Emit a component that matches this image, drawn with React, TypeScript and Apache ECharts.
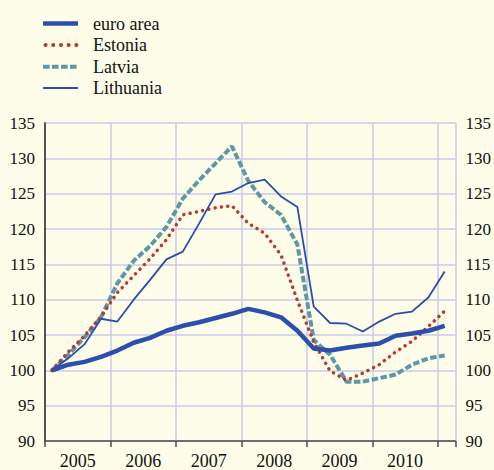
import React, { useEffect, useRef } from "react";
import * as echarts from "echarts";

const quarters: string[] = [
  "2005Q1","2005Q2","2005Q3","2005Q4",
  "2006Q1","2006Q2","2006Q3","2006Q4",
  "2007Q1","2007Q2","2007Q3","2007Q4",
  "2008Q1","2008Q2","2008Q3","2008Q4",
  "2009Q1","2009Q2","2009Q3","2009Q4",
  "2010Q1","2010Q2","2010Q3","2010Q4",
  "2011Q1",
];
const yearLabels: string[] = ["2005", "2006", "2007", "2008", "2009", "2010"];
const seriesNames: string[] = ["euro area", "Estonia", "Latvia", "Lithuania"];
const euroArea: number[] = [100, 100.8, 101.2, 101.9, 102.8, 103.9, 104.6, 105.6, 106.3, 106.8, 107.4, 108.0, 108.7, 108.2, 107.5, 105.6, 103.1, 102.8, 103.2, 103.5, 103.8, 104.9, 105.2, 105.6, 106.3];
const estonia: number[] = [100, 102.6, 104.9, 107.6, 111.0, 113.4, 115.8, 118.5, 122.0, 122.5, 123.0, 123.3, 120.8, 119.4, 116.3, 109.9, 104.0, 99.9, 98.6, 99.6, 100.8, 102.6, 104.1, 106.2, 108.4];
const latvia: number[] = [100, 102.2, 104.7, 107.5, 112.3, 115.5, 117.6, 120.3, 124.3, 126.9, 129.3, 131.7, 126.8, 123.8, 122.0, 117.8, 104.3, 102.2, 98.4, 98.4, 98.9, 99.4, 100.8, 101.7, 102.1];
const lithuania: number[] = [100, 101.7, 103.7, 107.3, 106.9, 110.0, 112.8, 115.7, 116.8, 120.8, 124.9, 125.3, 126.5, 127.0, 124.6, 123.1, 109.0, 106.7, 106.6, 105.5, 106.9, 108.0, 108.3, 110.3, 114.0];
const yTicks = { min: 90, max: 135, interval: 5 };

const X_OFFSET = 0.42;
const X_MAX = 25.08;

const toPoints = (vals: number[]) => vals.map((v, i) => [i + X_OFFSET, v]);

const FONT = "Liberation Serif";
const COLORS = {
  euro: "#2c4fae",
  estonia: "#b83a30",
  latvia: "#5f97a7",
  lithuania: "#2c4db0",
};
const STYLES = [
  { color: COLORS.euro, width: 4.5, dash: null as number[] | null, cap: "butt" },
  { color: COLORS.estonia, width: 4, dash: [0.1, 7.6], cap: "round" },
  { color: COLORS.latvia, width: 4, dash: [6.6, 2.4], cap: "butt" },
  { color: COLORS.lithuania, width: 2, dash: null as number[] | null, cap: "butt" },
];

export default function App() {
  const ref = useRef<HTMLDivElement>(null);
  useEffect(() => {
    document.body.style.margin = "0";
    document.body.style.background = "#fefde9";
    const chart = echarts.init(ref.current!, null, { renderer: "svg" });
    const axisColor = "#4a4a4a";
    const gridColor = "#c9cbe8";
    const yAxisCommon = {
      type: "value",
      min: yTicks.min,
      max: yTicks.max,
      interval: yTicks.interval,
      axisLine: { show: true, lineStyle: { color: axisColor, width: 1.5 } },
      axisTick: { show: false },
      axisLabel: { color: "#111", fontFamily: FONT, fontSize: 17, margin: 10 },
    };
    const legendRowsY = [23.5, 45, 66.7, 88];
    const legendGraphics: any[] = [];
    seriesNames.forEach((name, i) => {
      const s = STYLES[i];
      const y = legendRowsY[i];
      legendGraphics.push({
        type: "line",
        shape: { x1: i === 1 ? 45.5 : 43, y1: y, x2: 78, y2: y },
        style: {
          stroke: s.color,
          lineWidth: s.width,
          lineDash: s.dash ?? undefined,
          lineCap: s.cap,
        },
        silent: true,
      });
      legendGraphics.push({
        type: "text",
        x: 93,
        y: y,
        style: {
          text: name,
          fill: "#111",
          fontFamily: FONT,
          fontSize: 18,
          verticalAlign: "middle",
          align: "left",
        },
        silent: true,
      });
    });
    chart.setOption({
      animation: false,
      backgroundColor: "#fefde9",
      graphic: legendGraphics,
      grid: { left: 45, right: 37, top: 123, bottom: 23, containLabel: false },
      xAxis: [
        {
          type: "value",
          min: 0,
          max: X_MAX,
          interval: 4,
          position: "bottom",
          axisLine: { show: true, onZero: false, lineStyle: { color: axisColor, width: 1.5 } },
          axisTick: { show: true, inside: false, length: 6, lineStyle: { color: axisColor, width: 1.5 } },
          axisLabel: { show: false },
          splitLine: { show: true, lineStyle: { color: gridColor, width: 1.5 } },
        },
        {
          type: "value",
          min: 0,
          max: X_MAX,
          interval: 2,
          position: "bottom",
          axisLine: { show: false, onZero: false },
          axisTick: { show: false },
          splitLine: { show: false },
          axisLabel: {
            show: true,
            margin: 11,
            color: "#111",
            fontFamily: FONT,
            fontSize: 18,
            showMinLabel: false,
            showMaxLabel: false,
            formatter: (v: number) => {
              const r = Math.round(v);
              if (Math.abs(v - r) > 1e-6 || r % 4 !== 2) return "";
              return yearLabels[(r - 2) / 4] ?? "";
            },
          },
        },
      ],
      yAxis: [
        {
          ...yAxisCommon,
          position: "left",
          splitLine: { show: true, lineStyle: { color: gridColor, width: 1.5 } },
        },
        {
          ...yAxisCommon,
          position: "right",
          splitLine: { show: false },
        },
      ],
      series: [
        {
          name: seriesNames[2],
          type: "line",
          data: toPoints(latvia),
          symbol: "none",
          lineStyle: { color: STYLES[2].color, width: 4, type: [6.5, 2.5] },
          z: 2,
        },
        {
          name: seriesNames[1],
          type: "line",
          data: toPoints(estonia),
          symbol: "none",
          lineStyle: { color: STYLES[1].color, width: 3.5, type: [0.1, 6.3], cap: "round" },
          z: 3,
        },
        {
          name: seriesNames[3],
          type: "line",
          data: toPoints(lithuania),
          symbol: "none",
          lineStyle: { color: STYLES[3].color, width: 1.8 },
          z: 4,
        },
        {
          name: seriesNames[0],
          type: "line",
          data: toPoints(euroArea),
          symbol: "none",
          lineStyle: { color: STYLES[0].color, width: 4.5 },
          z: 5,
        },
      ],
    });
    return () => chart.dispose();
  }, []);
  return <div ref={ref} style={{ width: 494, height: 470 }} />;
}
